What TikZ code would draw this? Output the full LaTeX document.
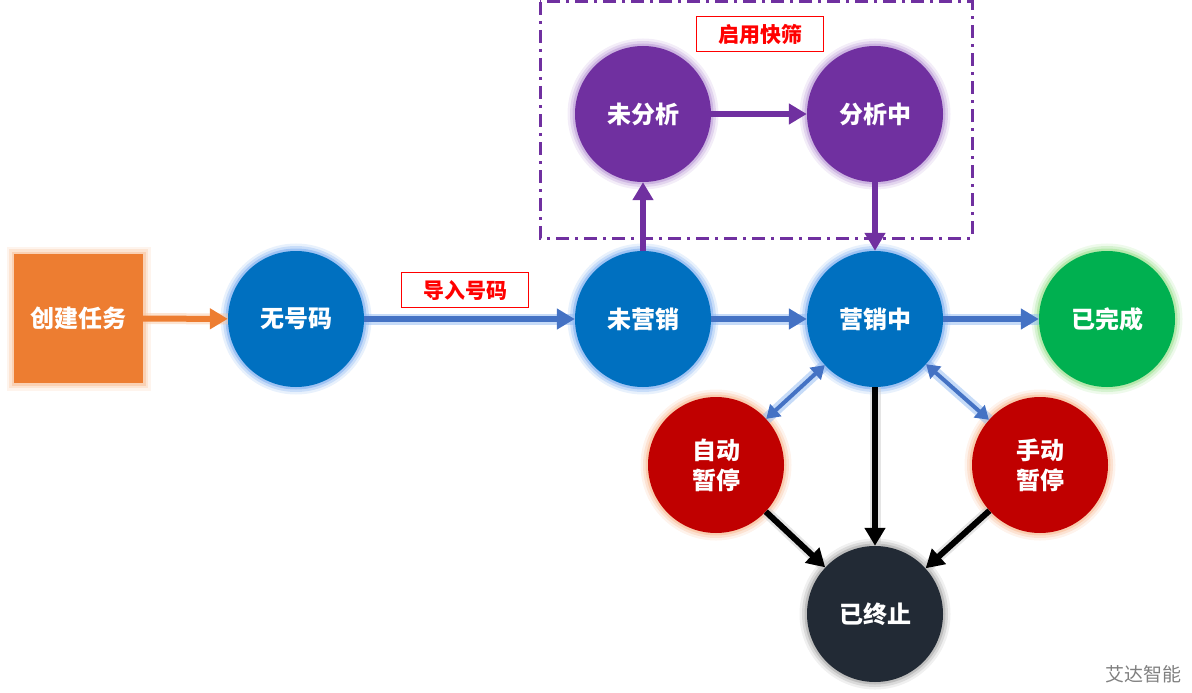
\documentclass[tikz,border=0pt]{standalone}
\usepackage{fontspec}
\setmainfont{Noto Sans CJK SC}
\usetikzlibrary{arrows.meta}
\definecolor{stblue}{HTML}{0070C0}
\definecolor{stblueglow}{HTML}{8DB8F2}
\definecolor{storange}{HTML}{ED7D31}
\definecolor{storangeglow}{HTML}{F9C9A6}
\definecolor{stpurple}{HTML}{7030A0}
\definecolor{stpurpleglow}{HTML}{C3A6DC}
\definecolor{stgreen}{HTML}{00B050}
\definecolor{stgreenglow}{HTML}{A8E49C}
\definecolor{stred}{HTML}{C00000}
\definecolor{stredglow}{HTML}{F9C3A0}
\definecolor{stdark}{HTML}{222A35}
\definecolor{arrblue}{HTML}{4472C4}
\begin{document}
\begin{tikzpicture}[x=1pt,y=-1pt,
 glow/.style={preaction={draw=#1,line width=15pt,draw opacity=0.2},
              preaction={draw=#1,line width=10pt,draw opacity=0.35},
              preaction={draw=#1,line width=5pt,draw opacity=0.7}},
 state/.style={circle,minimum size=136pt,inner sep=0pt,text=white,
               font=\fontsize{24}{30}\selectfont\bfseries,align=center},
 tag/.style={draw=red,fill=white,line width=1pt,text=red,minimum width=127pt,
             minimum height=35pt,inner sep=0pt,font=\fontsize{21}{24}\selectfont\bfseries},
 flow/.style={line width=6pt,draw=#1,-{Triangle[width=20pt,length=18pt]}},
 lineglow/.style={preaction={draw=#1,line width=11pt,draw opacity=0.5,-}},
 dflow/.style={line width=4pt,draw=arrblue,{Triangle[width=16pt,length=13pt]}-{Triangle[width=16pt,length=13pt]}}]
 \useasboundingbox (0,0) rectangle (1192,693);
 \draw[stpurple,line width=3pt,dash pattern=on 13pt off 6pt on 3pt off 6pt] (540,2) rectangle (972,238);
 \node[tag] (quick) at (760,34) {启用快筛};
 \node[tag] (import) at (465,290) {导入号码};
 \node[glow=storangeglow,fill=storange,minimum size=129pt,inner sep=0pt,text=white,
       font=\fontsize{24}{30}\selectfont\bfseries] (task) at (78.5,318.5) {创建任务};
 \node[state,glow=stblueglow,fill=stblue] (nonum) at (296,319) {无号码};
 \node[state,glow=stblueglow,fill=stblue] (unmkt) at (643,319) {未营销};
 \node[state,glow=stblueglow,fill=stblue] (inmkt) at (875,319) {营销中};
 \node[state,glow=stgreenglow,fill=stgreen] (done) at (1107,319) {已完成};
 \node[state,glow=stpurpleglow,fill=stpurple] (unana) at (643,114) {未分析};
 \node[state,glow=stpurpleglow,fill=stpurple] (inana) at (875,114) {分析中};
 \node[state,glow=stredglow,fill=stred] (autop) at (716,465) {自动\\暂停};
 \node[state,glow=stredglow,fill=stred] (manp) at (1040,465) {手动\\暂停};
 \node[state,glow=gray!60,fill=stdark] (stop) at (875,614) {已终止};
 \node[text=gray,font=\fontsize{19}{22}\selectfont] (brand) at (1143,674) {艾达智能};
 \draw[flow=storange,lineglow=storangeglow] (task) -- (nonum);
 \draw[flow=arrblue,lineglow=stblueglow] (nonum) -- (unmkt);
 \draw[flow=arrblue,lineglow=stblueglow] (unmkt) -- (inmkt);
 \draw[flow=arrblue,lineglow=stblueglow] (inmkt) -- (done);
 \draw[flow=stpurple] (unmkt) -- (unana);
 \draw[flow=stpurple] (unana) -- (inana);
 \draw[flow=stpurple] (inana) -- (inmkt);
 \draw[dflow,lineglow=stblueglow] (inmkt) -- (autop);
 \draw[dflow,lineglow=stblueglow] (inmkt) -- (manp);
 \draw[flow=black,lineglow=gray!40] (inmkt) -- (stop);
 \draw[flow=black,lineglow=gray!40] (autop) -- (stop);
 \draw[flow=black,lineglow=gray!40] (manp) -- (stop);
\end{tikzpicture}
\end{document}
